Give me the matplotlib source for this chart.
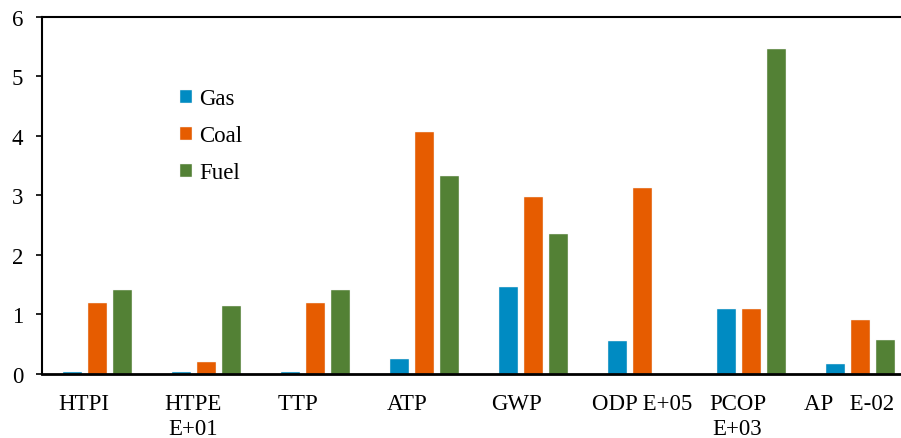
import numpy as np
import matplotlib
matplotlib.use("Agg")
import matplotlib.pyplot as plt

# data
categories = ["HTPI", "HTPE\nE+01", "TTP", "ATP", "GWP", "ODP E+05", "PCOP\nE+03", "AP   E-02"]
gas = [0.03, 0.03, 0.03, 0.25, 1.47, 0.55, 1.09, 0.16]
coal = [1.20, 0.20, 1.20, 4.07, 2.97, 3.12, 1.09, 0.91]
fuel = [1.41, 1.15, 1.41, 3.33, 2.35, 0.0, 5.46, 0.57]
series_names = ["Gas", "Coal", "Fuel"]

colors = ["#008BC2", "#E65C00", "#538135"]
label_shift = [-0.13, -0.12, -0.16, -0.16, -0.16, 0.0, -0.13, -0.11]

plt.rcParams['font.family'] = ['Liberation Serif', 'DejaVu Serif']

fig = plt.figure(figsize=(9.01, 4.39), dpi=100)
ax = fig.add_axes([0.0466, 0.1458, 0.9534, 0.8132])

x = np.arange(len(categories))
step = 0.229
width = 0.174
for k, (vals, name) in enumerate(zip([gas, coal, fuel], series_names)):
    ax.bar(x + (k - 1) * step, vals, width, color=colors[k], label=name,
           edgecolor="#f2f2f2", linewidth=0.3, zorder=2)

ax.set_xlim(-0.509, 7.37)
ax.set_ylim(0, 6)
ax.set_yticks(range(0, 7))
ax.set_xticks(x + np.array(label_shift))
ax.set_xticklabels(categories, fontsize=16.5, linespacing=1.2)
ax.tick_params(axis='x', length=0, pad=14)
ax.tick_params(axis='y', labelsize=16.5, length=4.5, width=1.2, direction='out', pad=9)

ax.spines['right'].set_visible(False)
ax.spines['top'].set_linewidth(1.5)
ax.spines['left'].set_linewidth(1.5)
ax.spines['bottom'].set_linewidth(2.0)
for s in ax.spines.values():
    s.set_color("black")

ax.legend(loc='upper left', bbox_to_anchor=(0.1607, 0.80), frameon=False,
          fontsize=16.5, borderpad=0, borderaxespad=0, labelspacing=0.7,
          handlelength=0.52, handleheight=0.52, handletextpad=0.3)

fig.savefig("out.png", dpi=100)
